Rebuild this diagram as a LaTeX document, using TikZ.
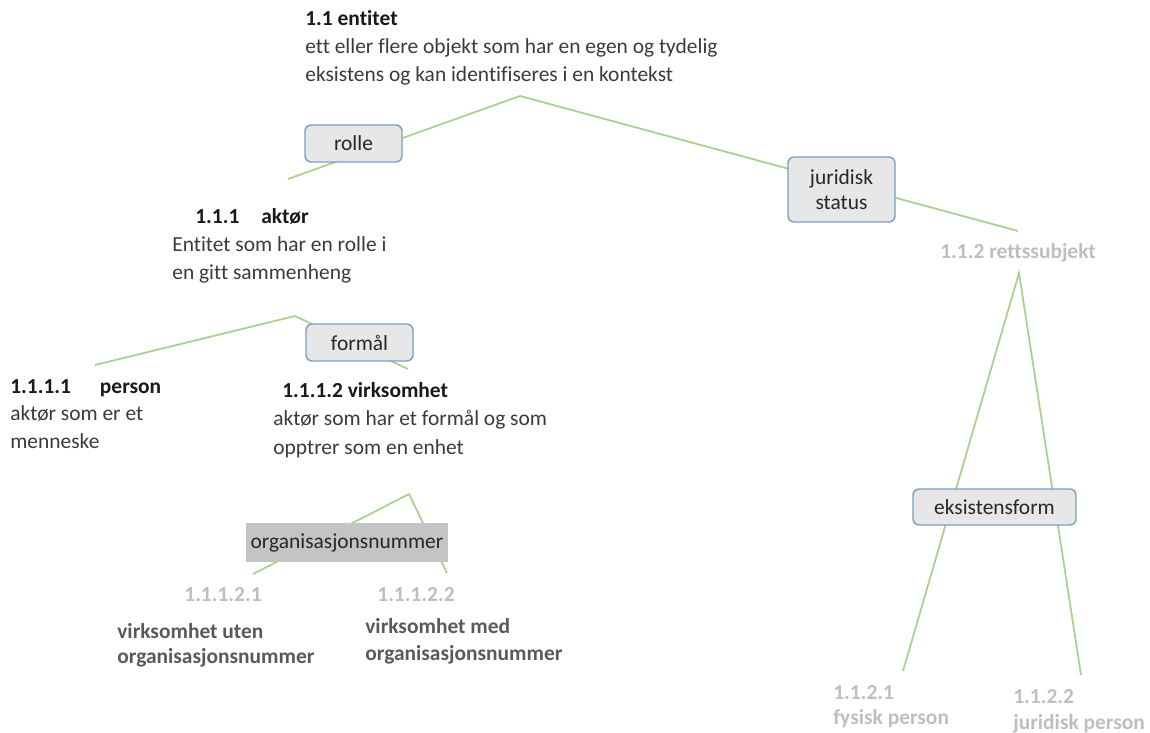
\documentclass[tikz,border=0pt]{standalone}
\usepackage{fontspec}
\setmainfont{Carlito}[Ligatures=NoCommon]
\usetikzlibrary{positioning,backgrounds}

\definecolor{linjegronn}{RGB}{169,209,142}
\definecolor{bokskant}{RGB}{126,156,192}
\definecolor{boksfyll}{RGB}{231,231,231}
\definecolor{orgfyll}{RGB}{196,196,196}
\definecolor{tekstmork}{RGB}{58,58,58}
\definecolor{tekstgraa}{RGB}{190,190,190}
\definecolor{tekstnavn}{RGB}{89,89,89}

\begin{document}
\begin{tikzpicture}[
    x=0.02cm, y=-0.02cm,
    every node/.style={inner sep=0pt, font=\fontsize{12.2}{16}\selectfont, text=tekstmork},
    begrep/.style={align=left, anchor=base west},
    nummer/.style={font=\fontsize{12.2}{14.2}\selectfont\bfseries, text=tekstgraa},
    navn/.style={font=\fontsize{12.2}{14.2}\selectfont\bfseries, text=tekstnavn},
    rolleboks/.style={draw=bokskant, fill=boksfyll, line width=0.8pt, rounded corners=3.5pt, align=center, text=black!85},
    orgboks/.style={fill=orgfyll, text=black!85},
    kant/.style={draw=linjegronn, line width=1pt}
  ]
    \useasboundingbox (0,0) rectangle (1150,733);

    % begreper (plassert etter siste linjes grunnlinje)
    \node[begrep] (entitet) at (305,82) {\textbf{\color{black!90}1.1 entitet}\\ett eller flere objekt som har en egen og tydelig\\eksistens og kan identifiseres i en kontekst};
    \node[begrep] (aktor) at (172,280) {\hspace*{0.46cm}\textbf{\color{black!90}1.1.1\hspace{0.44cm}aktør}\\Entitet som har en rolle i\\en gitt sammenheng};
    \node[begrep, font=\fontsize{12.2}{15.4}\selectfont] (person) at (10,448) {\textbf{\color{black!90}1.1.1.1\hspace{0.58cm}person}\\aktør som er et\\menneske};
    \node[begrep] (virksomhet) at (273,454) {\hspace*{0.18cm}\textbf{\color{black!90}1.1.1.2 virksomhet}\\aktør som har et formål og som\\opptrer som en enhet};
    \node[begrep, nummer] (rettssubjekt) at (940,259) {1.1.2 rettssubjekt};

    \node[nummer, anchor=base] (nr11121) at (223,601) {1.1.1.2.1};
    \node[begrep, navn] (utenorg) at (117,663) {virksomhet uten\\organisasjonsnummer};
    \node[nummer, anchor=base] (nr11122) at (416,601) {1.1.1.2.2};
    \node[begrep, navn, font=\fontsize{12.2}{14.8}\selectfont\bfseries] (medorg) at (365,660) {virksomhet med\\organisasjonsnummer};

    \node[begrep, nummer] (fysisk) at (833,724) {1.1.2.1\\fysisk person};
    \node[begrep, nummer, font=\fontsize{12.2}{14.8}\selectfont\bfseries] (juridisk) at (1013,729) {1.1.2.2\\juridisk person};

    % relasjoner
    \node[rolleboks, minimum width=97*0.02cm, minimum height=37*0.02cm] (rolle) at (353.5,143.5) {rolle};
    \node[rolleboks, minimum width=107*0.02cm, minimum height=65*0.02cm, font=\fontsize{12.2}{14.2}\selectfont] (status) at (841.5,189.5) {juridisk\\status};
    \node[rolleboks, minimum width=107*0.02cm, minimum height=37*0.02cm] (formal) at (359.5,342.5) {formål};
    \node[orgboks, minimum width=202*0.02cm, minimum height=39*0.02cm] (orgnr) at (347,542.5) {organisasjonsnummer};
    \node[rolleboks, minimum width=163*0.02cm, minimum height=36*0.02cm] (eksistens) at (994.5,507) {eksistensform};

    % knekkpunkter
    \coordinate (k-entitet) at (520,96);
    \coordinate (k-aktor) at (288,179);
    \coordinate (k-retts) at (1018,231);
    \coordinate (k-aktor2) at (295,316);
    \coordinate (k-person) at (95,365);
    \coordinate (k-virks) at (408,369);
    \coordinate (k-virks2) at (409,494);
    \coordinate (k-uten) at (253,574);
    \coordinate (k-med) at (447,573);
    \coordinate (k-retts2) at (1019,273);
    \coordinate (k-fysisk) at (903,671);
    \coordinate (k-juridisk) at (1081,675);

    \begin{scope}[on background layer]
      \draw[kant] (k-aktor) -- (k-entitet) -- (k-retts);
      \draw[kant] (k-person) -- (k-aktor2) -- (k-virks);
      \draw[kant] (k-uten) -- (k-virks2) -- (k-med);
      \draw[kant] (k-fysisk) -- (k-retts2) -- (k-juridisk);
    \end{scope}
  \end{tikzpicture}
\end{document}
